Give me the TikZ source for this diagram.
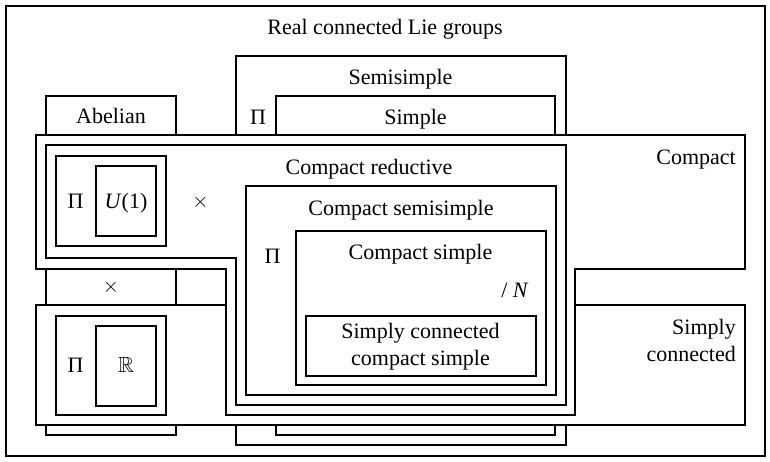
\documentclass[tikz,border=0pt]{standalone}
\usepackage{fontspec}
\usepackage{amssymb}
\setmainfont{Liberation Serif}

\begin{document}
\begin{tikzpicture}[x=1pt,y=-1pt,
    region/.style={draw, line width=1.8pt, fill=white},
    lbl/.style={anchor=base, inner sep=0pt},
    every node/.style={font=\fontsize{22}{27}\selectfont}]
            \useasboundingbox (0,0) rectangle (770,462);
            
            % big families
            \draw[region] (6,6) rectangle (765,456);
            \draw[region] (46,96) rectangle (176,435);
            \draw[region] (236,56) rectangle (566,445);
            \draw[region] (276,96) rectangle (555,435);
            
            \draw[region] (36,305) rectangle (745,425);
            \draw[region] (36,135) -- (745,135) -- (745,269) -- (575,269)
                -- (575,415) -- (226,415) -- (226,269) -- (36,269) -- cycle;
            
            % compact part
            \draw[region] (46,145) -- (566,145) -- (566,405) -- (236,405)
                -- (236,258) -- (46,258) -- cycle;
            \draw[region] (246,186) rectangle (556,395);
            \draw[region] (296,231) rectangle (546,385);
            \draw[region] (306,316) rectangle (536,376);
            
            \draw[region] (56,156) rectangle (166,246);
            \draw[region] (96,166) rectangle (156,236);
            
            \draw[region] (56,316) rectangle (166,415);
            \draw[region] (96,326) rectangle (156,406);
            
            % labels
            \node[lbl] (real) at (385,35) {Real connected Lie groups};
            \node[lbl] (semisimple) at (400.5,85) {Semisimple};
            \node[lbl] (simple) at (415.5,125) {Simple};
            \node[lbl] (pisimple) at (258,125) {Π};
            \node[lbl] (abelian) at (111,124) {Abelian};
            \node[lbl, anchor=base east] (compact) at (736,165) {Compact};
            \node[lbl] (creductive) at (369,175) {Compact reductive};
            \node[lbl] (csemisimple) at (401,215) {Compact semisimple};
            \node[lbl] (pics) at (272.5,263) {Π};
            \node[lbl] (csimple) at (420.5,259) {Compact simple};
            \node[lbl] (quotN) at (515,297.5) {/ \textit{N}};
            \node[lbl, align=center] (sccs) at (420.5,365) {Simply connected\\compact simple};
            \node[lbl, anchor=base east, align=right] (simplyconn) at (736,361) {Simply\\connected};
            
            \node[lbl] (piU) at (75.5,209) {Π};
            \node[lbl] (U1) at (126,209) {\textit{U}(1)};
            \node[inner sep=0pt] (timesU) at (200.5,202) {$\times$};
            \node[inner sep=0pt] (timesab) at (111,287) {$\times$};
            \node[lbl] (piR) at (75.5,372) {Π};
            \node[lbl] (R) at (126,372) {$\mathbb{R}$};
         
        \end{tikzpicture}
\end{document}
